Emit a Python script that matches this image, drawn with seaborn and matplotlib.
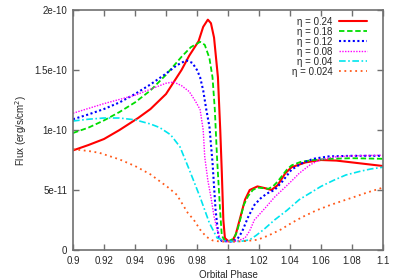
import numpy as np
import pandas as pd
import matplotlib
matplotlib.use("Agg")
import matplotlib.pyplot as plt
import seaborn as sns

# flux values are in units of 1e-11 erg/s/cm^2
phase_024 = [0.90, 0.91, 0.92, 0.93, 0.942, 0.95, 0.96, 0.97, 0.975, 0.981, 0.984,
             0.987, 0.989, 0.991, 0.9935, 0.995, 0.996, 0.997, 0.998, 1.0, 1.003,
             1.005, 1.008, 1.011, 1.014, 1.019, 1.024, 1.028, 1.032, 1.037, 1.041,
             1.05, 1.06, 1.07, 1.08, 1.09, 1.10]
flux_024 = [8.3, 8.75, 9.25, 10.0, 11.0, 11.75, 13.0, 15.0, 16.2, 17.4, 18.6,
            19.2, 18.9, 17.7, 14.4, 10.0, 6.5, 2.5, 1.0, 0.75, 0.8,
            1.3, 2.75, 4.2, 5.0, 5.3, 5.15, 5.0, 5.4, 6.4, 6.9,
            7.3, 7.5, 7.45, 7.3, 7.15, 7.0]

phase_018 = [0.90, 0.91, 0.92, 0.93, 0.94, 0.95, 0.96, 0.97, 0.976, 0.982, 0.985,
             0.988, 0.990, 0.9915, 0.993, 0.995, 0.996, 0.998, 1.001, 1.004, 1.006,
             1.008, 1.010, 1.013, 1.016, 1.019, 1.023, 1.026, 1.029, 1.032, 1.035,
             1.038, 1.041, 1.047, 1.055, 1.066, 1.08, 1.10]
flux_018 = [9.75, 10.2, 10.8, 11.5, 12.3, 13.3, 14.6, 16.1, 16.9, 17.35, 17.1,
            16.0, 14.4, 11.7, 7.5, 3.1, 1.2, 0.75, 0.75, 1.0, 1.6,
            2.6, 3.7, 4.5, 5.0, 5.2, 5.15, 5.1, 5.3, 5.7, 6.2,
            6.7, 7.05, 7.35, 7.5, 7.6, 7.65, 7.6]

phase_012 = [0.90, 0.91, 0.92, 0.93, 0.94, 0.95, 0.96, 0.967, 0.973, 0.977, 0.980,
             0.982, 0.984, 0.986, 0.988, 0.990, 0.992, 0.994, 0.996, 1.002, 1.006,
             1.009, 1.013, 1.017, 1.021, 1.025, 1.030, 1.035, 1.041, 1.048, 1.055,
             1.065, 1.08, 1.10]
flux_012 = [10.9, 11.3, 11.75, 12.3, 13.0, 13.8, 14.7, 15.4, 15.8, 15.6, 15.0,
            14.4, 13.3, 11.7, 10.3, 7.3, 3.3, 1.0, 0.75, 0.7, 0.9,
            1.5, 2.75, 3.75, 4.3, 4.7, 5.0, 5.7, 6.7, 7.25, 7.6,
            7.8, 7.85, 7.85]

phase_008 = [0.90, 0.91, 0.92, 0.93, 0.94, 0.95, 0.96, 0.965, 0.970, 0.975, 0.979,
             0.982, 0.984, 0.985, 0.987, 0.989, 0.991, 0.993, 0.995, 0.998, 1.004,
             1.008, 1.011, 1.014, 1.017, 1.024, 1.030, 1.037, 1.043, 1.046, 1.053,
             1.059, 1.068, 1.08, 1.10]
flux_008 = [11.4, 11.8, 12.2, 12.55, 12.9, 13.4, 13.9, 14.0, 13.7, 13.2, 12.4,
            11.7, 10.0, 7.75, 5.8, 4.4, 2.8, 1.7, 0.9, 0.7, 0.7,
            0.85, 1.0, 1.6, 2.5, 3.5, 4.4, 5.25, 6.0, 6.4, 7.1,
            7.5, 7.75, 7.85, 7.9]

phase_004 = [0.90, 0.91, 0.92, 0.93, 0.94, 0.95, 0.956, 0.963, 0.969, 0.975, 0.982,
             0.988, 0.993, 0.998, 1.005, 1.010, 1.014, 1.018, 1.023, 1.030, 1.038,
             1.046, 1.053, 1.060, 1.068, 1.076, 1.085, 1.092, 1.10]
flux_004 = [10.75, 10.9, 11.0, 11.0, 10.85, 10.5, 10.2, 9.6, 8.6, 6.7, 4.4,
            2.25, 1.0, 0.75, 0.7, 0.75, 0.85, 1.2, 1.7, 2.5, 3.3,
            4.2, 4.75, 5.3, 5.8, 6.25, 6.55, 6.75, 6.9]

phase_0024 = [0.90, 0.91, 0.917, 0.93, 0.94, 0.95, 0.961, 0.967, 0.974, 0.978, 0.982,
              0.986, 0.990, 0.995, 1.005, 1.012, 1.019, 1.026, 1.034, 1.041, 1.048,
              1.057, 1.066, 1.074, 1.081, 1.09, 1.10]
flux_0024 = [8.4, 8.25, 8.1, 7.55, 7.0, 6.3, 5.25, 4.6, 3.1, 2.5, 1.7,
             1.1, 0.8, 0.7, 0.7, 0.75, 0.85, 1.2, 1.7, 2.25, 2.75,
             3.3, 3.75, 4.1, 4.4, 4.8, 5.2]

labels = ["η = 0.24", "η = 0.18", "η = 0.12", "η = 0.08", "η = 0.04", "η = 0.024"]
phases = [phase_024, phase_018, phase_012, phase_008, phase_004, phase_0024]
fluxes = [flux_024, flux_018, flux_012, flux_008, flux_004, flux_0024]

colors = ["#ff0000", "#00dd00", "#0000ff", "#ff00ff", "#00e5ee", "#ff5a1a"]
dashes = ["-", (0, (3, 1.5)), (0, (1, 1.2)), (0, (1, 1)), (0, (4, 1.5, 1, 1.5)), (0, (1, 2))]
widths = [1.5, 1.3, 1.5, 1.0, 1.2, 1.3]

xtick_vals = [0.9, 0.92, 0.94, 0.96, 0.98, 1.0, 1.02, 1.04, 1.06, 1.08, 1.1]
xtick_labels = ["0.9", "0.92", "0.94", "0.96", "0.98", "1", "1.02", "1.04", "1.06", "1.08", "1.1"]
ytick_vals = [0, 5e-11, 1e-10, 1.5e-10, 2e-10]
ytick_labels = ["0", "5e-11", "1e-10", "1.5e-10", "2e-10"]

sns.set_style("ticks")
plt.rcParams["font.family"] = ["Liberation Sans", "DejaVu Sans"]

fig = plt.figure(figsize=(4.0, 2.79), dpi=100)
ax = fig.add_axes([0.1825, 0.104, 0.775, 0.86])

for lab, ph, fl, c, ls, lw in zip(labels, phases, fluxes, colors, dashes, widths):
    df = pd.DataFrame({"phase": ph, "flux": np.array(fl) * 1e-11})
    sns.lineplot(data=df, x="phase", y="flux", ax=ax, color=c, linestyle=ls,
                 linewidth=lw, label=lab, sort=False)

ax.set_xlim(0.9, 1.1)
ax.set_ylim(0, 2e-10)
ax.set_xticks(xtick_vals, xtick_labels)
ax.set_yticks(ytick_vals, ytick_labels)
ax.tick_params(direction="in", top=True, right=True, length=4, width=1,
               color="#707070", labelsize=7, pad=4)
for s in ax.spines.values():
    s.set_color("#707070")
    s.set_linewidth(1.2)

ax.set_xlabel("Orbital Phase", fontsize=7, labelpad=3)
ax.set_ylabel("Flux (erg/s/cm$^2$)", fontsize=7, labelpad=4)

leg = ax.legend(loc="upper right", frameon=False, fontsize=7, markerfirst=False,
                handlelength=2.9, handletextpad=0.6, labelspacing=0.0,
                borderaxespad=0.3, bbox_to_anchor=(0.97, 1.0))
# right-align the legend rows, gnuplot style
for col in leg._legend_handle_box.get_children():
    col.align = "right"

fig.savefig("out.png", dpi=100)
